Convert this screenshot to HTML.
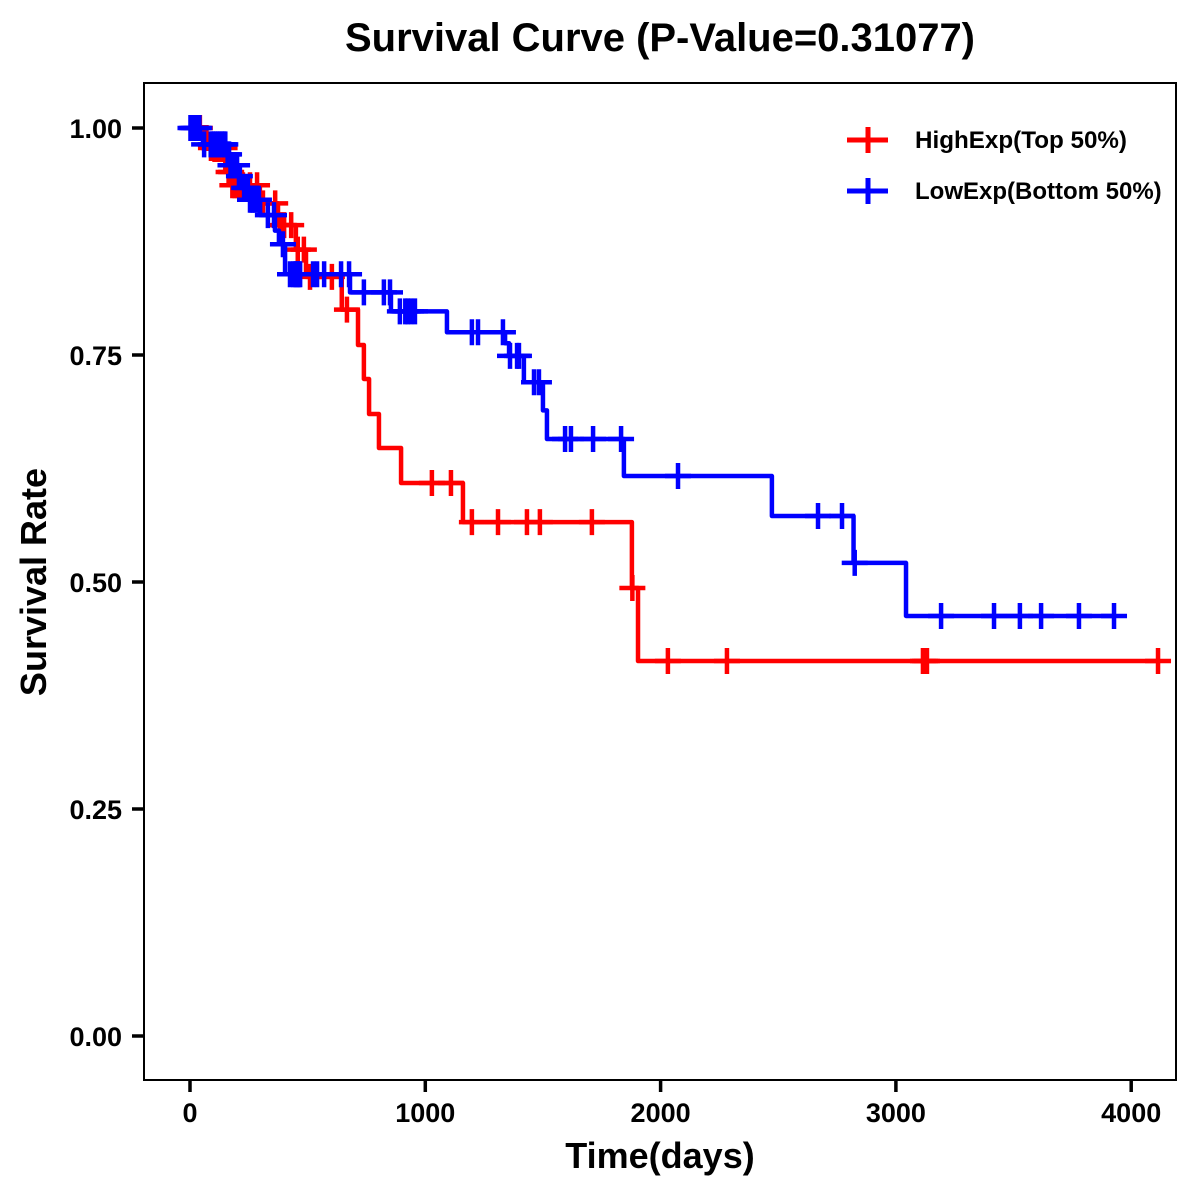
<!DOCTYPE html>
<html>
<head>
<meta charset="utf-8">
<title>Survival Curve</title>
<style>
html,body{margin:0;padding:0;background:#fff;}
svg{display:block;}
text{font-family:"Liberation Sans",Arial,sans-serif;font-weight:bold;fill:#000;}
</style>
</head>
<body>
<svg id="chart" xmlns="http://www.w3.org/2000/svg" width="1200" height="1200" viewBox="0 0 1200 1200">
<rect x="0" y="0" width="1200" height="1200" fill="#fff"/>
<text x="660" y="51" font-size="40" text-anchor="middle" textLength="630" lengthAdjust="spacingAndGlyphs">Survival Curve (P-Value=0.31077)</text>
<text x="660" y="1168" font-size="36" text-anchor="middle">Time(days)</text>
<text transform="translate(46,582) rotate(-90)" font-size="36" text-anchor="middle">Survival Rate</text>
<g id="axes"></g>
<g id="series"></g>
<rect x="144" y="83" width="1032" height="997" fill="none" stroke="#000" stroke-width="2"/>
<g>
<g>
<path d="M847 140H888M868 127V153" stroke="#ff0000" stroke-width="5" fill="none"/>
<text x="915" y="148" font-size="24" textLength="212" lengthAdjust="spacingAndGlyphs">HighExp(Top 50%)</text>
</g>
<g>
<path d="M847 191H888M868 178V204" stroke="#0000ff" stroke-width="5" fill="none"/>
<text x="915" y="199" font-size="24">LowExp(Bottom 50%)</text>
</g>
</g>
</svg>
<script>
const xTicks = [0, 1000, 2000, 3000, 4000];
const yTicks = [0, 0.25, 0.5, 0.75, 1];
const yTickLabels = ['0.00', '0.25', '0.50', '0.75', '1.00'];

const highTimes = [0, 45, 80, 149, 161, 178, 297, 374, 450, 493, 645, 714, 739, 761, 803, 897, 1160, 1878, 1904];
const highSurvival = [1, 0.989, 0.978, 0.965, 0.9515, 0.937, 0.917, 0.893, 0.866, 0.836, 0.8, 0.761, 0.7236, 0.685, 0.6476, 0.609, 0.566, 0.4934, 0.413];
const highCensors = [30, 42, 60, 70, 89, 105, 120, 147, 150, 164, 175, 180, 190, 200, 212, 225, 255, 285, 310, 362, 382, 400, 430, 458, 484, 510, 603, 667, 1028, 1109, 1198, 1309, 1432, 1487, 1708, 1880, 2031, 2282, 3115, 3124, 3132, 4114];

const lowTimes = [0, 42, 55, 155, 170, 204, 217, 251, 298, 361, 378, 404, 680, 854, 1092, 1339, 1356, 1419, 1500, 1517, 1844, 2473, 2820, 3043];
const lowSurvival = [1, 0.991, 0.982, 0.971, 0.959, 0.947, 0.934, 0.921, 0.904, 0.887, 0.872, 0.839, 0.819, 0.798, 0.775, 0.763, 0.749, 0.72, 0.689, 0.6575, 0.6167, 0.5727, 0.521, 0.4626];
const lowCensors = [2, 10, 18, 26, 34, 40, 60, 88, 96, 104, 112, 120, 128, 136, 144, 150, 160, 166, 172, 182, 190, 200, 208, 212, 230, 238, 246, 255, 262, 270, 278, 285, 293, 331, 357, 395, 425, 440, 446, 452, 458, 464, 468, 523, 540, 570, 642, 676, 739, 824, 850, 892, 915, 925, 939, 956, 1198, 1224, 1330, 1360, 1390, 1398, 1462, 1483, 1594, 1619, 1713, 1832, 2074, 2669, 2771, 2825, 3192, 3417, 3527, 3617, 3778, 3927];

const NS = 'http://www.w3.org/2000/svg';
function xScale(d) { return 190 + d * 0.2353; }
function yScale(s) { return 1036 - s * 908; }
function make(tag, attrs, parent) {
  const el = document.createElementNS(NS, tag);
  for (const k in attrs) el.setAttribute(k, attrs[k]);
  parent.appendChild(el);
  return el;
}
function levelAt(times, surv, t) {
  let v = surv[0];
  for (let i = 0; i < times.length; i++) { if (times[i] <= t) v = surv[i]; }
  return v;
}
const axes = document.getElementById('axes');
xTicks.forEach(function (t) {
  const px = xScale(t);
  const tick = make('line', {x1: px, x2: px, y1: 1080, y2: 1092, stroke: '#000', 'stroke-width': 3.5}, axes);
  
  
  const lab = make('text', {x: px, y: 1122, 'font-size': 27, 'text-anchor': 'middle'}, axes);
  lab.textContent = String(t);
  
  
});
yTicks.forEach(function (v, i) {
  const py = yScale(v);
  const tick = make('line', {x1: 132, x2: 144, y1: py, y2: py, stroke: '#000', 'stroke-width': 3.5}, axes);
  
  
  const lab = make('text', {x: 122, y: py + 10, 'font-size': 27, 'text-anchor': 'end'}, axes);
  lab.textContent = yTickLabels[i];
  
  
});
const layer = document.getElementById('series');
function drawSeries(times, surv, censors, color, key) {
  const g = make('g', {}, layer);
  
  
  const lastT = Math.max(censors[censors.length - 1], times[times.length - 1]);
  let d = 'M' + xScale(times[0]) + ' ' + yScale(surv[0]);
  for (let i = 1; i < times.length; i++) {
    d += 'H' + xScale(times[i]) + 'V' + yScale(surv[i]);
  }
  d += 'H' + xScale(lastT);
  const line = make('path', {d: d, fill: 'none', stroke: color, 'stroke-width': 4.5, 'stroke-linejoin': 'round'}, g);
  
  
  censors.forEach(function (t) {
    const cx = xScale(t);
    const cy = yScale(levelAt(times, surv, t));
    const mark = make('path', {d: 'M' + (cx - 13) + ' ' + cy + 'H' + (cx + 13) + 'M' + cx + ' ' + (cy - 13) + 'V' + (cy + 13), fill: 'none', stroke: color, 'stroke-width': 4.5}, g);
    
    
  });
}
drawSeries(highTimes, highSurvival, highCensors, '#ff0000', 'high-exp');
drawSeries(lowTimes, lowSurvival, lowCensors, '#0000ff', 'low-exp');
</script>
</body>
</html>
